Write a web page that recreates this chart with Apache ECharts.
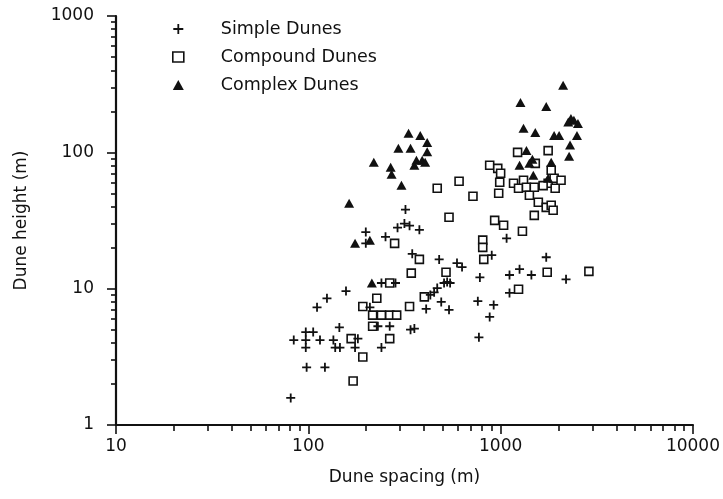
<!DOCTYPE html>
<html>
<head>
<meta charset="utf-8">
<script src="https://cdn.jsdelivr.net/npm/echarts@6/dist/echarts.min.js"></script>
<style>
  html, body { margin: 0; padding: 0; background: #fff; }
  #chart { width: 723px; height: 499px; }
</style>
</head>
<body>
<div id="chart"></div>
<script>
// Dune spacing (m) vs dune height (m)
const simpleDunes = [
  [320, 38], [291, 28], [316, 30], [336, 29], [378, 27], [199, 26], [199, 21.5],
  [252, 24], [347, 18], [479, 16.4], [593, 15.4], [630, 14.4], [899, 17.6],
  [527, 11.2], [508, 11], [546, 11], [240, 11], [284, 11], [157, 9.6], [125, 8.5],
  [111, 7.3], [209, 7.3], [431, 9], [451, 9.4], [468, 10.1], [491, 8], [539, 7],
  [410, 7.1], [780, 12.1], [761, 8.1], [877, 6.2], [920, 7.6], [771, 4.4],
  [145, 5.2], [230, 5.3], [265, 5.3], [340, 5], [356, 5.1], [84, 4.2], [97, 4.8],
  [106, 4.8], [97, 4.2], [97, 3.7], [115, 4.2], [135, 4.2], [138, 3.7], [146, 3.7],
  [181, 4.3], [175, 3.7], [240, 3.7], [98, 2.65], [122, 2.65], [81, 1.58],
  [1726, 17], [1112, 12.6], [1254, 13.9], [1445, 12.6], [2188, 11.7], [1112, 9.3],
  [1074, 23.4]
];

const compoundDunes = [
  [281, 21.5], [378, 16.4], [807, 22.7], [807, 20.1], [817, 16.4], [343, 13],
  [520, 13.2], [265, 11], [227, 8.5], [192, 7.4], [216, 6.4], [240, 6.4], [265, 6.4],
  [288, 6.4], [336, 7.4], [401, 8.7], [216, 5.3], [167, 4.3], [265, 4.3], [192, 3.15],
  [171, 2.1], [1746, 13.2], [2877, 13.4], [1239, 9.9], [468, 54.5], [608, 61.4],
  [718, 47.6], [539, 33.4], [931, 31.7], [1036, 29.2], [1298, 26.4], [877, 80.3],
  [966, 76.3], [1000, 70.2], [989, 60.3], [977, 50.1], [1225, 100], [1766, 103],
  [1167, 59.3], [1239, 54.5], [1315, 62.4], [1362, 55.4], [1411, 48.4], [1496, 55.4],
  [1570, 43], [1726, 39.5], [1832, 40.9], [1875, 37.6], [1496, 34.5], [1766, 59.3],
  [1897, 64.6], [1921, 54.5], [2061, 62.4], [1832, 73.8], [1514, 83], [1663, 57]
];

const complexDunes = [
  [2113, 310], [1268, 232], [1726, 217], [2320, 177], [2404, 172], [2523, 163],
  [2247, 167], [2494, 133], [1315, 150], [1514, 140], [1897, 133], [2014, 133],
  [2296, 113], [2270, 93.5], [1362, 103], [1462, 89], [1411, 83], [1254, 80.3],
  [1832, 84.5], [1479, 67.9], [1766, 64.6], [332, 138], [382, 133], [415, 118],
  [294, 107], [340, 107], [415, 101], [365, 87.4], [391, 87.4], [356, 80.3],
  [405, 84.5], [219, 84.5], [268, 77.6], [271, 69], [305, 57.3], [163, 42.3],
  [175, 21.5], [209, 22.7], [214, 11]
];

const seriesNames = ['Simple Dunes', 'Compound Dunes', 'Complex Dunes'];

// Axis ticks
const xMajorTicks = [10, 100, 1000, 10000];
const yMajorTicks = [1, 10, 100, 1000];

function minorTicks(from, to) {
  const out = [];
  for (let d = from; d < to; d *= 10) {
    for (let k = 2; k <= 9; k++) out.push(k * d);
  }
  return out;
}
const xMinorTicks = minorTicks(10, 10000);
const yMinorTicks = minorTicks(1, 1000);

const FONT = 'DejaVu Sans';
const INK = '#111';
const plainNumber = v => String(Math.round(v));

const chart = echarts.init(document.getElementById('chart'), null, { renderer: 'canvas' });

const baseAxis = {
  type: 'log',
  logBase: 10,
  splitLine: { show: false },
  minorTick: { show: false },
  axisLine: { show: true, lineStyle: { color: INK, width: 2.2 } }
};

const PLUS_PATH = 'path://M5,0 L5,10 M0,5 L10,5';

chart.setOption({
  animation: false,
  backgroundColor: '#fff',
  grid: { left: 116, right: 25, top: 16, bottom: 74 },
  legend: {
    orient: 'vertical',
    left: 167,
    top: 15,
    itemWidth: 11,
    itemHeight: 10,
    itemGap: 10,
    symbolKeepAspect: true,
    data: [
      { name: seriesNames[0], icon: PLUS_PATH,
        itemStyle: { color: 'rgba(0,0,0,0)', borderColor: INK, borderWidth: 1.8 } },
      { name: seriesNames[1], icon: 'rect',
        itemStyle: { color: '#fff', borderColor: INK, borderWidth: 1.6 } },
      { name: seriesNames[2], icon: 'triangle',
        itemStyle: { color: INK, borderWidth: 0 } }
    ],
    textStyle: { fontFamily: FONT, fontSize: 17.5, color: INK, padding: [0, 0, 0, 32] }
  },
  xAxis: [
    Object.assign({}, baseAxis, {
      min: 10, max: 10000,
      position: 'bottom',
      name: 'Dune spacing (m)',
      nameLocation: 'middle',
      nameGap: 44,
      nameTextStyle: { fontFamily: FONT, fontSize: 17, color: INK },
      axisTick: { show: true, inside: false, length: 9, customValues: xMajorTicks,
                  lineStyle: { color: INK, width: 1.6 } },
      axisLabel: { show: true, margin: 13, customValues: xMajorTicks, formatter: plainNumber,
                   fontFamily: FONT, fontSize: 17, color: INK,
                   showMinLabel: true, showMaxLabel: true }
    }),
    Object.assign({}, baseAxis, {
      min: 10, max: 10000,
      position: 'bottom',
      axisLine: { show: false },
      axisTick: { show: true, inside: false, length: 6, customValues: xMinorTicks,
                  lineStyle: { color: INK, width: 1.6 } },
      axisLabel: { show: false }
    })
  ],
  yAxis: [
    Object.assign({}, baseAxis, {
      min: 1, max: 1000,
      position: 'left',
      name: 'Dune height (m)',
      nameLocation: 'middle',
      nameGap: 86,
      nameTextStyle: { fontFamily: FONT, fontSize: 17, color: INK },
      axisTick: { show: true, inside: false, length: 9, customValues: yMajorTicks,
                  lineStyle: { color: INK, width: 1.6 } },
      axisLabel: { show: true, margin: 22, customValues: yMajorTicks, formatter: plainNumber,
                   fontFamily: FONT, fontSize: 17, color: INK,
                   showMinLabel: true, showMaxLabel: true }
    }),
    Object.assign({}, baseAxis, {
      min: 1, max: 1000,
      position: 'left',
      axisLine: { show: false },
      axisTick: { show: true, inside: false, length: 5, customValues: yMinorTicks,
                  lineStyle: { color: INK, width: 1.6 } },
      axisLabel: { show: false }
    })
  ],
  series: [
    {
      name: seriesNames[0],
      type: 'scatter',
      data: simpleDunes,
      symbol: PLUS_PATH,
      symbolSize: 9,
      itemStyle: { color: 'rgba(0,0,0,0)', borderColor: INK, borderWidth: 1.8, opacity: 1 },
      z: 3
    },
    {
      name: seriesNames[1],
      type: 'scatter',
      data: compoundDunes,
      symbol: 'rect',
      symbolSize: 8,
      itemStyle: { color: '#fff', borderColor: INK, borderWidth: 1.6, opacity: 1 },
      z: 2
    },
    {
      name: seriesNames[2],
      type: 'scatter',
      data: complexDunes,
      symbol: 'triangle',
      symbolSize: [10, 9],
      itemStyle: { color: INK, opacity: 1 },
      z: 4
    }
  ]
});
</script>
</body>
</html>
